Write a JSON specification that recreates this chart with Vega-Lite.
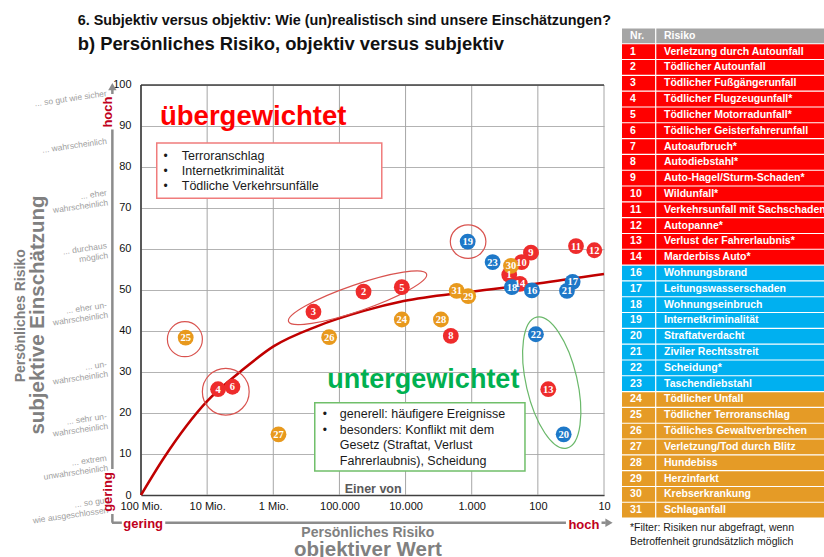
{
  "$schema": "https://vega.github.io/schema/vega-lite/v6.json",
  "background": "white",
  "padding": {"left": 13, "top": 13, "right": 0, "bottom": 0},
  "spacing": 9,
  "config": {"view": {"stroke": null}, "font": "Liberation Sans"},
  "resolve": {"scale": {"x": "independent", "y": "independent", "color": "independent"}},
  "datasets": {
    "dekaden": [
      {"einer_von": 100000000}, {"einer_von": 10000000}, {"einer_von": 1000000}, {"einer_von": 100000},
      {"einer_von": 10000}, {"einer_von": 1000}, {"einer_von": 100}, {"einer_von": 10}
    ],
    "kurve": [
      {"einer_von": 100000000, "einschaetzung": 0},
      {"einer_von": 44900000, "einschaetzung": 9.1},
      {"einer_von": 10000000, "einschaetzung": 22.9},
      {"einer_von": 3090000, "einschaetzung": 30.2},
      {"einer_von": 980000, "einschaetzung": 36.3},
      {"einer_von": 214000, "einschaetzung": 41.2},
      {"einer_von": 42700, "einschaetzung": 44.9},
      {"einer_von": 10700, "einschaetzung": 47.3},
      {"einer_von": 1020, "einschaetzung": 49.6},
      {"einer_von": 100, "einschaetzung": 51.6},
      {"einer_von": 10, "einschaetzung": 53.9}
    ],
    "punkte": [
      {"nr": "1", "gruppe": "Verkehr/Auto", "einer_von": 271, "einschaetzung": 53.7},
      {"nr": "2", "gruppe": "Verkehr/Auto", "einer_von": 43200, "einschaetzung": 49.6},
      {"nr": "3", "gruppe": "Verkehr/Auto", "einer_von": 247000, "einschaetzung": 44.7},
      {"nr": "4", "gruppe": "Verkehr/Auto", "einer_von": 6840000, "einschaetzung": 25.8},
      {"nr": "5", "gruppe": "Verkehr/Auto", "einer_von": 11400, "einschaetzung": 50.7},
      {"nr": "6", "gruppe": "Verkehr/Auto", "einer_von": 4140000, "einschaetzung": 26.4},
      {"nr": "8", "gruppe": "Verkehr/Auto", "einer_von": 2070, "einschaetzung": 38.8},
      {"nr": "9", "gruppe": "Verkehr/Auto", "einer_von": 127, "einschaetzung": 59.1},
      {"nr": "10", "gruppe": "Verkehr/Auto", "einer_von": 176, "einschaetzung": 56.8},
      {"nr": "11", "gruppe": "Verkehr/Auto", "einer_von": 26.5, "einschaetzung": 60.7},
      {"nr": "12", "gruppe": "Verkehr/Auto", "einer_von": 14, "einschaetzung": 59.7},
      {"nr": "13", "gruppe": "Verkehr/Auto", "einer_von": 69.6, "einschaetzung": 25.8},
      {"nr": "14", "gruppe": "Verkehr/Auto", "einer_von": 187, "einschaetzung": 51.5},
      {"nr": "16", "gruppe": "Wohnen/Recht", "einer_von": 123, "einschaetzung": 49.9},
      {"nr": "17", "gruppe": "Wohnen/Recht", "einer_von": 29.8, "einschaetzung": 52.0},
      {"nr": "18", "gruppe": "Wohnen/Recht", "einer_von": 247, "einschaetzung": 50.7},
      {"nr": "19", "gruppe": "Wohnen/Recht", "einer_von": 1150, "einschaetzung": 61.8},
      {"nr": "20", "gruppe": "Wohnen/Recht", "einer_von": 40.7, "einschaetzung": 14.8},
      {"nr": "21", "gruppe": "Wohnen/Recht", "einer_von": 36.3, "einschaetzung": 49.8},
      {"nr": "22", "gruppe": "Wohnen/Recht", "einer_von": 107, "einschaetzung": 39.2},
      {"nr": "23", "gruppe": "Wohnen/Recht", "einer_von": 483, "einschaetzung": 56.8},
      {"nr": "24", "gruppe": "Leben/Gesundheit", "einer_von": 11400, "einschaetzung": 42.8},
      {"nr": "25", "gruppe": "Leben/Gesundheit", "einer_von": 21100000, "einschaetzung": 38.4},
      {"nr": "26", "gruppe": "Leben/Gesundheit", "einer_von": 143000, "einschaetzung": 38.5},
      {"nr": "27", "gruppe": "Leben/Gesundheit", "einer_von": 834000, "einschaetzung": 14.8},
      {"nr": "28", "gruppe": "Leben/Gesundheit", "einer_von": 2920, "einschaetzung": 42.8},
      {"nr": "29", "gruppe": "Leben/Gesundheit", "einer_von": 1130, "einschaetzung": 48.5},
      {"nr": "30", "gruppe": "Leben/Gesundheit", "einer_von": 255, "einschaetzung": 55.9},
      {"nr": "31", "gruppe": "Leben/Gesundheit", "einer_von": 1690, "einschaetzung": 49.8}
    ],
    "stufen": [
      {"stufe": "... so gut wie sicher", "wert": 98.0},
      {"stufe": "... wahrscheinlich", "wert": 86.4},
      {"stufe": "... eher\nwahrscheinlich", "wert": 73.8},
      {"stufe": "... durchaus\nmöglich", "wert": 60.9},
      {"stufe": "... eher un-\nwahrscheinlich", "wert": 46.4},
      {"stufe": "... un-\nwahrscheinlich", "wert": 32.0},
      {"stufe": "... sehr un-\nwahrscheinlich", "wert": 19.3},
      {"stufe": "... extrem\nunwahrscheinlich", "wert": 9.1},
      {"stufe": "... so gut\nwie ausgeschlossen", "wert": -1.2}
    ],
    "tabelle": [
      {"nr": "Nr.", "risiko": "Risiko", "gruppe": "Kopf"},
      {"nr": "1", "risiko": "Verletzung durch Autounfall", "gruppe": "Verkehr/Auto"},
      {"nr": "2", "risiko": "Tödlicher Autounfall", "gruppe": "Verkehr/Auto"},
      {"nr": "3", "risiko": "Tödlicher Fußgängerunfall", "gruppe": "Verkehr/Auto"},
      {"nr": "4", "risiko": "Tödlicher Flugzeugunfall*", "gruppe": "Verkehr/Auto"},
      {"nr": "5", "risiko": "Tödlicher Motorradunfall*", "gruppe": "Verkehr/Auto"},
      {"nr": "6", "risiko": "Tödlicher Geisterfahrerunfall", "gruppe": "Verkehr/Auto"},
      {"nr": "7", "risiko": "Autoaufbruch*", "gruppe": "Verkehr/Auto"},
      {"nr": "8", "risiko": "Autodiebstahl*", "gruppe": "Verkehr/Auto"},
      {"nr": "9", "risiko": "Auto-Hagel/Sturm-Schaden*", "gruppe": "Verkehr/Auto"},
      {"nr": "10", "risiko": "Wildunfall*", "gruppe": "Verkehr/Auto"},
      {"nr": "11", "risiko": "Verkehrsunfall mit Sachschaden", "gruppe": "Verkehr/Auto"},
      {"nr": "12", "risiko": "Autopanne*", "gruppe": "Verkehr/Auto"},
      {"nr": "13", "risiko": "Verlust der Fahrerlaubnis*", "gruppe": "Verkehr/Auto"},
      {"nr": "14", "risiko": "Marderbiss Auto*", "gruppe": "Verkehr/Auto"},
      {"nr": "16", "risiko": "Wohnungsbrand", "gruppe": "Wohnen/Recht"},
      {"nr": "17", "risiko": "Leitungswasserschaden", "gruppe": "Wohnen/Recht"},
      {"nr": "18", "risiko": "Wohnungseinbruch", "gruppe": "Wohnen/Recht"},
      {"nr": "19", "risiko": "Internetkriminalität", "gruppe": "Wohnen/Recht"},
      {"nr": "20", "risiko": "Straftatverdacht", "gruppe": "Wohnen/Recht"},
      {"nr": "21", "risiko": "Ziviler Rechtsstreit", "gruppe": "Wohnen/Recht"},
      {"nr": "22", "risiko": "Scheidung*", "gruppe": "Wohnen/Recht"},
      {"nr": "23", "risiko": "Taschendiebstahl", "gruppe": "Wohnen/Recht"},
      {"nr": "24", "risiko": "Tödlicher Unfall", "gruppe": "Leben/Gesundheit"},
      {"nr": "25", "risiko": "Tödlicher Terroranschlag", "gruppe": "Leben/Gesundheit"},
      {"nr": "26", "risiko": "Tödliches Gewaltverbrechen", "gruppe": "Leben/Gesundheit"},
      {"nr": "27", "risiko": "Verletzung/Tod durch Blitz", "gruppe": "Leben/Gesundheit"},
      {"nr": "28", "risiko": "Hundebiss", "gruppe": "Leben/Gesundheit"},
      {"nr": "29", "risiko": "Herzinfarkt", "gruppe": "Leben/Gesundheit"},
      {"nr": "30", "risiko": "Krebserkrankung", "gruppe": "Leben/Gesundheit"},
      {"nr": "31", "risiko": "Schlaganfall", "gruppe": "Leben/Gesundheit"}
    ]
  },
  "hconcat": [
    {
      "width": 463,
      "height": 467,
      "layer": [
        {
          "data": {"name": "dekaden"},
          "mark": {"type": "rule", "color": "#a6a6a6", "strokeWidth": 1},
          "encoding": {
            "x": {"field": "einer_von", "type": "quantitative",
              "scale": {"type": "log", "domain": [10, 100000000], "reverse": true, "nice": false},
              "axis": {"values": [100000000, 10000000, 1000000, 100000, 10000, 1000, 100, 10],
                "labelExpr": "datum.value == 100000000 ? '100 Mio.' : datum.value == 10000000 ? '10 Mio.' : datum.value == 1000000 ? '1 Mio.' : datum.value == 100000 ? '100.000' : datum.value == 10000 ? '10.000' : datum.value == 1000 ? '1.000' : datum.label",
                "grid": false, "ticks": false, "domain": true, "domainColor": "#404040", "domainWidth": 1.5,
                "labelFontSize": 11, "labelColor": "#111111", "labelPadding": 5, "labelFlush": false, "labelOverlap": false,
                "labelFont": "Liberation Sans", "title": null}},
            "y": {"datum": 0, "type": "quantitative",
              "scale": {"domain": [0, 113.9], "nice": false, "zero": false},
              "axis": {"values": [0, 10, 20, 30, 40, 50, 60, 70, 80, 90, 100], "grid": true, "gridColor": "#b3b3b3",
                "domain": false, "ticks": false, "labelPadding": 10, "labelFontSize": 11, "labelColor": "#111111",
                "labelFont": "Liberation Sans", "title": null}},
            "y2": {"datum": 100}
          }
        },
        {
          "data": {"values": [{}]},
          "mark": {"type": "rule", "color": "#404040", "strokeWidth": 1.5},
          "encoding": {"x": {"datum": 100000000}, "x2": {"datum": 10}, "y": {"datum": 100}}
        },
        {
          "data": {"values": [{}]},
          "mark": {"type": "rule", "color": "#303030", "strokeWidth": 1.5},
          "encoding": {"x": {"datum": 100000000}, "y": {"datum": 0}, "y2": {"datum": 100}}
        },
        {
          "data": {"name": "kurve"},
          "mark": {"type": "line", "color": "#c00000", "strokeWidth": 2.5, "interpolate": "monotone"},
          "encoding": {"x": {"field": "einer_von", "type": "quantitative"}, "y": {"field": "einschaetzung", "type": "quantitative"}}
        },
        {
          "data": {"values": [{}]},
          "mark": {"type": "point", "shape": "M 1 0 C 1 0.0994 0.5523 0.18 0 0.18 C -0.5523 0.18 -1 0.0994 -1 0 C -1 -0.0994 -0.5523 -0.18 0 -0.18 C 0.5523 -0.18 1 -0.0994 1 0 Z", "size": 21316, "angle": 341, "filled": false, "color": "#d9534f", "strokeWidth": 1.2, "opacity": 1},
          "encoding": {"x": {"datum": 53200}, "y": {"datum": 48.1}}
        },
        {
          "data": {"values": [{}]},
          "mark": {"type": "point", "shape": "M 1 0 C 1 0.5192 0.5523 0.94 0 0.94 C -0.5523 0.94 -1 0.5192 -1 0 C -1 -0.5192 -0.5523 -0.94 0 -0.94 C 0.5523 -0.94 1 -0.5192 1 0 Z", "size": 1267, "filled": false, "color": "#d9534f", "strokeWidth": 1.2, "opacity": 1},
          "encoding": {"x": {"datum": 1134}, "y": {"datum": 61.8}}
        },
        {
          "data": {"values": [{}]},
          "mark": {"type": "point", "shape": "circle", "size": 1225, "filled": false, "color": "#d9534f", "strokeWidth": 1.2, "opacity": 1},
          "encoding": {"x": {"datum": 21700000}, "y": {"datum": 38.0}}
        },
        {
          "data": {"values": [{}]},
          "mark": {"type": "point", "shape": "circle", "size": 2190, "filled": false, "color": "#d9534f", "strokeWidth": 1.2, "opacity": 1},
          "encoding": {"x": {"datum": 5230000}, "y": {"datum": 25.2}}
        },
        {
          "data": {"values": [{}]},
          "mark": {"type": "point", "shape": "M 1 0 C 1 0.2099 0.5523 0.38 0 0.38 C -0.5523 0.38 -1 0.2099 -1 0 C -1 -0.2099 -0.5523 -0.38 0 -0.38 C 0.5523 -0.38 1 -0.2099 1 0 Z", "size": 18063, "angle": 77, "filled": false, "color": "#6ab86a", "strokeWidth": 1.2, "opacity": 1},
          "encoding": {"x": {"datum": 61.7}, "y": {"datum": 27.4}}
        },
        {
          "data": {"values": [{}]},
          "mark": {"type": "rect", "fill": "white", "stroke": "#f07c7c", "strokeWidth": 1.5},
          "encoding": {"x": {"datum": 57800000}, "x2": {"datum": 22900}, "y": {"datum": 85.85}, "y2": {"datum": 72.4}}
        },
        {
          "data": {"values": [{}]},
          "mark": {"type": "text", "text": "•\n•\n•", "lineBreak": "\n", "lineHeight": 15, "align": "center", "baseline": "middle", "fontSize": 12, "color": "#1a1a1a"},
          "encoding": {"x": {"datum": 42300000}, "y": {"datum": 82.68}}
        },
        {
          "data": {"values": [{}]},
          "mark": {"type": "text", "text": "Terroranschlag\nInternetkriminalität\nTödliche Verkehrsunfälle", "lineBreak": "\n", "lineHeight": 15, "align": "left", "baseline": "middle", "fontSize": 12.5, "color": "#1a1a1a"},
          "encoding": {"x": {"datum": 24200000}, "y": {"datum": 82.68}}
        },
        {
          "data": {"values": [{}]},
          "mark": {"type": "rect", "fill": "white", "stroke": "#70bf6a", "strokeWidth": 1.5},
          "encoding": {"x": {"datum": 236000}, "x2": {"datum": 156.6}, "y": {"datum": 22.5}, "y2": {"datum": 5.85}}
        },
        {
          "data": {"values": [{}]},
          "mark": {"type": "text", "text": "•\n•", "lineBreak": "\n", "lineHeight": 15.7, "align": "center", "baseline": "middle", "fontSize": 12, "color": "#1a1a1a"},
          "encoding": {"x": {"datum": 166000}, "y": {"datum": 19.76}}
        },
        {
          "data": {"values": [{}]},
          "mark": {"type": "text", "text": "generell: häufigere Ereignisse\nbesonders: Konflikt mit dem\nGesetz (Straftat, Verlust\nFahrerlaubnis), Scheidung", "lineBreak": "\n", "lineHeight": 15.7, "align": "left", "baseline": "middle", "fontSize": 12.5, "color": "#1a1a1a"},
          "encoding": {"x": {"datum": 98600}, "y": {"datum": 19.76}}
        },
        {
          "data": {"values": [{}]},
          "mark": {"type": "text", "text": "übergewichtet", "align": "center", "baseline": "alphabetic", "fontSize": 27.5, "fontWeight": "bold", "color": "#ff0000"},
          "encoding": {"x": {"datum": 2010000}, "y": {"datum": 90.17}}
        },
        {
          "data": {"values": [{}]},
          "mark": {"type": "text", "text": "untergewichtet", "align": "center", "baseline": "alphabetic", "fontSize": 27, "fontWeight": "bold", "color": "#00b050"},
          "encoding": {"x": {"datum": 5380}, "y": {"datum": 26.17}}
        },
        {
          "data": {"values": [{}]},
          "mark": {"type": "text", "text": "Einer von", "align": "center", "baseline": "middle", "fontSize": 12.5, "fontWeight": "bold", "color": "#595959"},
          "encoding": {"x": {"datum": 30900}, "y": {"datum": 1.39}}
        },
        {
          "data": {"name": "punkte"},
          "mark": {"type": "circle", "size": 250, "opacity": 1},
          "encoding": {
            "x": {"field": "einer_von", "type": "quantitative"},
            "y": {"field": "einschaetzung", "type": "quantitative"},
            "color": {"field": "gruppe", "type": "nominal", "legend": null,
              "scale": {"domain": ["Verkehr/Auto", "Wohnen/Recht", "Leben/Gesundheit"], "range": ["#ee2c2c", "#1e78c8", "#e8991d"]}}
          }
        },
        {
          "data": {"name": "punkte"},
          "mark": {"type": "text", "align": "center", "baseline": "middle", "fontSize": 10.5, "fontWeight": "bold", "color": "white", "font": "Liberation Sans Narrow", "dy": 0.5},
          "encoding": {
            "x": {"field": "einer_von", "type": "quantitative"},
            "y": {"field": "einschaetzung", "type": "quantitative"},
            "text": {"field": "nr"}
          }
        },
        {
          "data": {"name": "stufen"},
          "mark": {"type": "text", "align": "right", "baseline": "middle", "angle": 352, "fontSize": 8.5, "color": "#a0a0a0", "lineBreak": "\n", "lineHeight": 10},
          "encoding": {"x": {"datum": 330000000}, "y": {"field": "wert", "type": "quantitative"}, "text": {"field": "stufe"}}
        },
        {
          "data": {"values": [{}]},
          "mark": {"type": "text", "text": "Persönliches Risiko", "angle": 270, "align": "center", "baseline": "middle", "fontSize": 14, "fontWeight": "bold", "color": "#808080"},
          "encoding": {"x": {"datum": 6610000000}, "y": {"datum": 43.7}}
        },
        {
          "data": {"values": [{}]},
          "mark": {"type": "text", "text": "subjektive Einschätzung", "angle": 270, "align": "center", "baseline": "middle", "fontSize": 20.5, "fontWeight": "bold", "color": "#808080"},
          "encoding": {"x": {"datum": 3590000000}, "y": {"datum": 43.9}}
        },
        {
          "data": {"values": [{}]},
          "mark": {"type": "text", "text": "Persönliches Risiko", "align": "center", "baseline": "middle", "fontSize": 14, "fontWeight": "bold", "color": "#808080"},
          "encoding": {"x": {"datum": 37150}, "y": {"datum": -9.3}}
        },
        {
          "data": {"values": [{}]},
          "mark": {"type": "text", "text": "objektiver Wert", "align": "center", "baseline": "middle", "fontSize": 20.5, "fontWeight": "bold", "color": "#808080"},
          "encoding": {"x": {"datum": 37150}, "y": {"datum": -13.5}}
        },
        {
          "data": {"values": [{}]},
          "mark": {"type": "rule", "color": "#8c8c8c", "strokeWidth": 2.5},
          "encoding": {"x": {"datum": 271000000}, "y": {"datum": -6.76}, "y2": {"datum": -4.63}}
        },
        {
          "data": {"values": [{}]},
          "mark": {"type": "rule", "color": "#8c8c8c", "strokeWidth": 2.5},
          "encoding": {"x": {"datum": 271000000}, "y": {"datum": 6.34}, "y2": {"datum": 89.15}}
        },
        {
          "data": {"values": [{}]},
          "mark": {"type": "rule", "color": "#8c8c8c", "strokeWidth": 2.5},
          "encoding": {"x": {"datum": 271000000}, "y": {"datum": 97.8}, "y2": {"datum": 99.3}}
        },
        {
          "data": {"values": [{}]},
          "mark": {"type": "rule", "color": "#8c8c8c", "strokeWidth": 2.5},
          "encoding": {"x": {"datum": 275000000}, "x2": {"datum": 195000000}, "y": {"datum": -6.76}}
        },
        {
          "data": {"values": [{}]},
          "mark": {"type": "rule", "color": "#8c8c8c", "strokeWidth": 2.5},
          "encoding": {"x": {"datum": 43000000}, "x2": {"datum": 37.6}, "y": {"datum": -6.76}}
        },
        {
          "data": {"values": [{}]},
          "mark": {"type": "rule", "color": "#8c8c8c", "strokeWidth": 2.5},
          "encoding": {"x": {"datum": 10.9}, "x2": {"datum": 9.4}, "y": {"datum": -6.76}}
        },
        {
          "data": {"values": [{}]},
          "mark": {"type": "point", "shape": "triangle-up", "size": 70, "filled": true, "color": "#8c8c8c", "opacity": 1},
          "encoding": {"x": {"datum": 271000000}, "y": {"datum": 99.6}}
        },
        {
          "data": {"values": [{}]},
          "mark": {"type": "point", "shape": "triangle-right", "size": 70, "filled": true, "color": "#8c8c8c", "opacity": 1},
          "encoding": {"x": {"datum": 8.4}, "y": {"datum": -6.76}}
        },
        {
          "data": {"values": [{}]},
          "mark": {"type": "text", "text": "hoch", "angle": 270, "align": "center", "baseline": "middle", "fontSize": 13, "fontWeight": "bold", "color": "#c00020"},
          "encoding": {"x": {"datum": 313000000}, "y": {"datum": 93.4}}
        },
        {
          "data": {"values": [{}]},
          "mark": {"type": "text", "text": "gering", "angle": 270, "align": "center", "baseline": "middle", "fontSize": 13, "fontWeight": "bold", "color": "#c00020"},
          "encoding": {"x": {"datum": 313000000}, "y": {"datum": 0.73}}
        },
        {
          "data": {"values": [{}]},
          "mark": {"type": "text", "text": "gering", "align": "center", "baseline": "middle", "fontSize": 13, "fontWeight": "bold", "color": "#c00020"},
          "encoding": {"x": {"datum": 92700000}, "y": {"datum": -7.1}}
        },
        {
          "data": {"values": [{}]},
          "mark": {"type": "text", "text": "hoch", "align": "center", "baseline": "middle", "fontSize": 13, "fontWeight": "bold", "color": "#c00020"},
          "encoding": {"x": {"datum": 20.1}, "y": {"datum": -7.2}}
        },
        {
          "data": {"values": [{}]},
          "mark": {"type": "text", "text": "6. Subjektiv versus objektiv: Wie (un)realistisch sind unsere Einschätzungen?", "align": "left", "baseline": "middle", "fontSize": 14.4, "fontWeight": "bold", "color": "#111111"},
          "encoding": {"x": {"datum": 907000000}, "y": {"datum": 115.6}}
        },
        {
          "data": {"values": [{}]},
          "mark": {"type": "text", "text": "b) Persönliches Risiko, objektiv versus subjektiv", "align": "left", "baseline": "middle", "fontSize": 18.4, "fontWeight": "bold", "color": "#111111"},
          "encoding": {"x": {"datum": 907000000}, "y": {"datum": 110.0}}
        }
      ]
    },
    {
      "width": 203,
      "height": 490,
      "data": {"name": "tabelle"},
      "title": {"text": ["*Filter: Risiken nur abgefragt, wenn", "Betroffenheit grundsätzlich möglich"], "orient": "bottom", "anchor": "start", "fontSize": 10.5, "fontWeight": "normal", "font": "Liberation Sans", "color": "#1a1a1a", "offset": 5, "dx": 8, "lineHeight": 14},
      "encoding": {
        "y": {"field": "nr", "type": "nominal", "sort": null, "axis": null, "scale": {"paddingInner": 0.07, "paddingOuter": 0.03}}
      },
      "layer": [
        {
          "mark": {"type": "rect"},
          "encoding": {
            "x": {"datum": 0, "type": "quantitative", "scale": {"domain": [0, 100], "nice": false, "zero": false}, "axis": null},
            "x2": {"datum": 16.3},
            "color": {"field": "gruppe", "type": "nominal", "legend": null,
              "scale": {"domain": ["Kopf", "Verkehr/Auto", "Wohnen/Recht", "Leben/Gesundheit"], "range": ["#a5a5a5", "#ff0000", "#00b0f0", "#e59b26"]}}
          }
        },
        {
          "mark": {"type": "rect"},
          "encoding": {
            "x": {"datum": 16.9, "type": "quantitative"},
            "x2": {"datum": 100},
            "color": {"field": "gruppe", "type": "nominal", "legend": null}
          }
        },
        {
          "mark": {"type": "text", "align": "left", "baseline": "middle", "fontSize": 10.5, "fontWeight": "bold", "color": "white"},
          "encoding": {"x": {"datum": 4}, "text": {"field": "nr"}}
        },
        {
          "mark": {"type": "text", "align": "left", "baseline": "middle", "fontSize": 10.5, "fontWeight": "bold", "color": "white"},
          "encoding": {"x": {"datum": 20.7}, "text": {"field": "risiko"}}
        }
      ]
    }
  ]
}
